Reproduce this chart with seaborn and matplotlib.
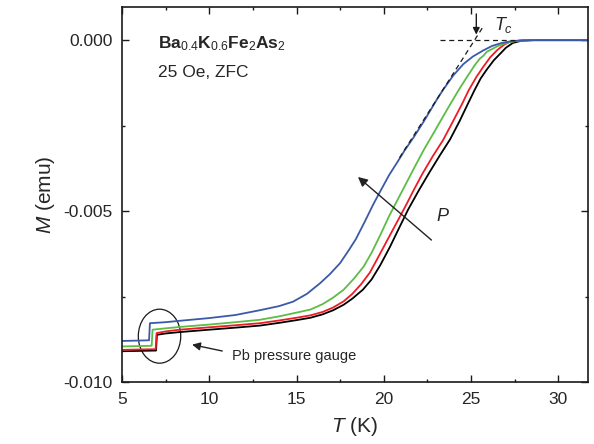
import numpy as np
import pandas as pd
import matplotlib
matplotlib.use("Agg")
import matplotlib.pyplot as plt
from matplotlib.patches import Ellipse
from matplotlib.ticker import MultipleLocator, FuncFormatter
import seaborn as sns

# ----------------------------
# DATA (M in units of 1e-3 emu)
# ----------------------------
T_black = [5, 6.95, 7.0, 7.5, 8.3, 10, 11.5, 12.9, 14, 15, 15.8, 16.5, 17.1, 17.7, 18.2, 18.8, 19.3,
           19.8, 20.35, 20.9, 21.4, 22.0, 22.6, 23.2, 23.8, 24.35, 24.8, 25.2, 25.55, 25.9, 26.3,
           26.7, 27.0, 27.4, 27.9, 28.6, 30, 31.7]
M_black = [-9.10, -9.08, -8.62, -8.58, -8.54, -8.47, -8.41, -8.35, -8.27, -8.19, -8.12, -8.02, -7.90,
           -7.74, -7.56, -7.30, -7.00, -6.58, -6.05, -5.47, -4.95, -4.40, -3.88, -3.38, -2.90, -2.36,
           -1.88, -1.46, -1.12, -0.86, -0.59, -0.38, -0.22, -0.08, -0.015, 0.0, 0.0, 0.0]

T_red = [5, 6.93, 6.98, 7.5, 8.3, 10, 11.5, 12.9, 14, 15, 15.8, 16.5, 17.1, 17.7, 18.2, 18.7, 19.2,
         19.7, 20.2, 20.8, 21.3, 21.7, 22.2, 22.8, 23.4, 24.0, 24.5, 24.85, 25.3, 25.7, 26.1, 26.5,
         26.9, 27.2, 27.8, 28.5, 30, 31.7]
M_red = [-9.06, -9.04, -8.57, -8.52, -8.47, -8.40, -8.34, -8.28, -8.20, -8.12, -8.05, -7.95, -7.82,
         -7.64, -7.42, -7.14, -6.80, -6.33, -5.85, -5.28, -4.80, -4.40, -3.92, -3.40, -2.92, -2.34,
         -1.85, -1.48, -1.08, -0.78, -0.50, -0.29, -0.13, -0.05, -0.01, 0.0, 0.0, 0.0]

T_green = [5, 6.7, 6.75, 7.5, 8.3, 10, 11.5, 12.9, 14, 15, 15.8, 16.5, 17.1, 17.7, 18.3, 18.85, 19.3,
           19.8, 20.3, 20.8, 21.3, 21.8, 22.3, 22.84, 23.3, 23.8, 24.3, 24.8, 25.2, 25.5, 25.7, 25.9,
           26.5, 27.0, 27.5, 28.2, 30, 31.7]
M_green = [-8.96, -8.94, -8.47, -8.43, -8.39, -8.32, -8.25, -8.18, -8.08, -7.97, -7.88, -7.72, -7.53,
           -7.30, -6.97, -6.62, -6.22, -5.70, -5.15, -4.66, -4.17, -3.68, -3.20, -2.73, -2.32, -1.88,
           -1.45, -1.05, -0.74, -0.54, -0.46, -0.34, -0.18, -0.08, -0.03, 0.0, 0.0, 0.0]

T_blue = [5, 6.55, 6.6, 7.5, 8.3, 10, 11.5, 12.9, 14, 14.8, 15.6, 16.35, 16.9, 17.5, 18.0, 18.4, 18.9,
          19.4, 19.8, 20.3, 20.8, 21.2, 21.7, 22.3, 23.0, 23.4, 24.0, 24.56, 25.1, 25.7, 26.2, 26.7,
          27.2, 27.8, 28.5, 30, 31.7]
M_blue = [-8.80, -8.78, -8.28, -8.25, -8.21, -8.13, -8.04, -7.90, -7.78, -7.65, -7.42, -7.11, -6.85,
          -6.52, -6.14, -5.82, -5.32, -4.80, -4.42, -3.95, -3.55, -3.22, -2.85, -2.37, -1.77, -1.45,
          -1.02, -0.70, -0.48, -0.30, -0.17, -0.09, -0.04, -0.01, 0.0, 0.0, 0.0]

curve_names = ["black", "red", "green", "blue"]
curve_colors = ["#000000", "#ed1c24", "#5cbd45", "#3a5aa8"]

frames = []
for name, T, M in zip(curve_names,
                      [T_black, T_red, T_green, T_blue],
                      [M_black, M_red, M_green, M_blue]):
    frames.append(pd.DataFrame({"T": T, "M": np.array(M) * 1e-3, "curve": name}))
df = pd.concat(frames, ignore_index=True)

# ----------------------------
# STYLE
# ----------------------------
sns.set_theme(style="ticks")
plt.rcParams["font.family"] = ["Liberation Sans", "DejaVu Sans"]
plt.rcParams["mathtext.fontset"] = "custom"
plt.rcParams["mathtext.rm"] = "Liberation Sans"
plt.rcParams["mathtext.it"] = "Liberation Sans:italic"
plt.rcParams["mathtext.bf"] = "Liberation Sans:bold"
plt.rcParams["axes.unicode_minus"] = False

fig = plt.figure(figsize=(5.94, 4.44), dpi=100)
ax = fig.add_axes([122 / 594, 62 / 444, 466 / 594, 375 / 444])

sns.lineplot(data=df, x="T", y="M", hue="curve", hue_order=curve_names,
             palette=curve_colors, sort=False, estimator=None, legend=False,
             linewidth=1.3, ax=ax)

# tangent + baseline for Tc
ax.plot([20.9, 25.75], [0.8e-3 * (20.9 - 25.2), 0.8e-3 * (25.75 - 25.2)],
        color="k", lw=0.9, ls=(0, (4, 3)))
ax.plot([23.2, 27.6], [0, 0], color="k", lw=0.9, ls=(0, (4, 3)))
ax.annotate("", xy=(25.3, 0.00008), xytext=(25.3, 0.00085),
            arrowprops=dict(arrowstyle="-|>", color="k", lw=1.0, mutation_scale=10))
ax.text(26.3, 0.00045, r"$T_c$", fontsize=13, va="center", ha="left")

# pressure arrow
ax.annotate("", xy=(18.4, -3.95e-3), xytext=(22.85, -5.9e-3),
            arrowprops=dict(arrowstyle="-|>", color="#222222", lw=1.0, mutation_scale=14))
ax.text(23.4, -5.17e-3, r"$P$", fontsize=13, va="center", ha="center")

# Pb gauge
ax.add_patch(Ellipse((7.15, -8.66e-3), 2.43, 1.58e-3, fill=False, edgecolor="k", lw=0.9))
ax.annotate("", xy=(8.86, -8.89e-3), xytext=(10.9, -9.11e-3),
            arrowprops=dict(arrowstyle="-|>", color="#222222", lw=1.0, mutation_scale=12))
ax.text(11.3, -9.36e-3, "Pb pressure gauge", fontsize=10.5, va="baseline", ha="left")

# sample label
ax.text(7.08, -0.24e-3, r"$\mathbf{Ba}_{0.4}\mathbf{K}_{0.6}\mathbf{Fe}_{2}\mathbf{As}_{2}$",
        fontsize=12.5, va="baseline", ha="left")
ax.text(7.08, -1.09e-3, "25 Oe, ZFC", fontsize=12.5, va="baseline", ha="left")

# ----------------------------
# AXES
# ----------------------------
ax.set_xlim(5, 31.7)
ax.set_ylim(-0.010, 0.00097)
ax.xaxis.set_major_locator(MultipleLocator(5))
ax.xaxis.set_minor_locator(MultipleLocator(2.5))
ax.yaxis.set_major_locator(MultipleLocator(0.005))
ax.yaxis.set_minor_locator(MultipleLocator(0.0025))
ax.yaxis.set_major_formatter(FuncFormatter(lambda v, p: f"{v:.3f}"))
ax.tick_params(which="both", direction="in", top=True, right=True, width=1.0, color="k")
ax.tick_params(which="major", length=5, labelsize=12.5, pad=7)
ax.tick_params(which="minor", length=2.5)
for s in ax.spines.values():
    s.set_linewidth(1.2)
    s.set_color("k")

ax.set_xlabel(r"$T$ (K)", fontsize=15, labelpad=6)
ax.set_ylabel(r"$M$ (emu)", fontsize=15, labelpad=4)

fig.savefig("out.png", dpi=100)
